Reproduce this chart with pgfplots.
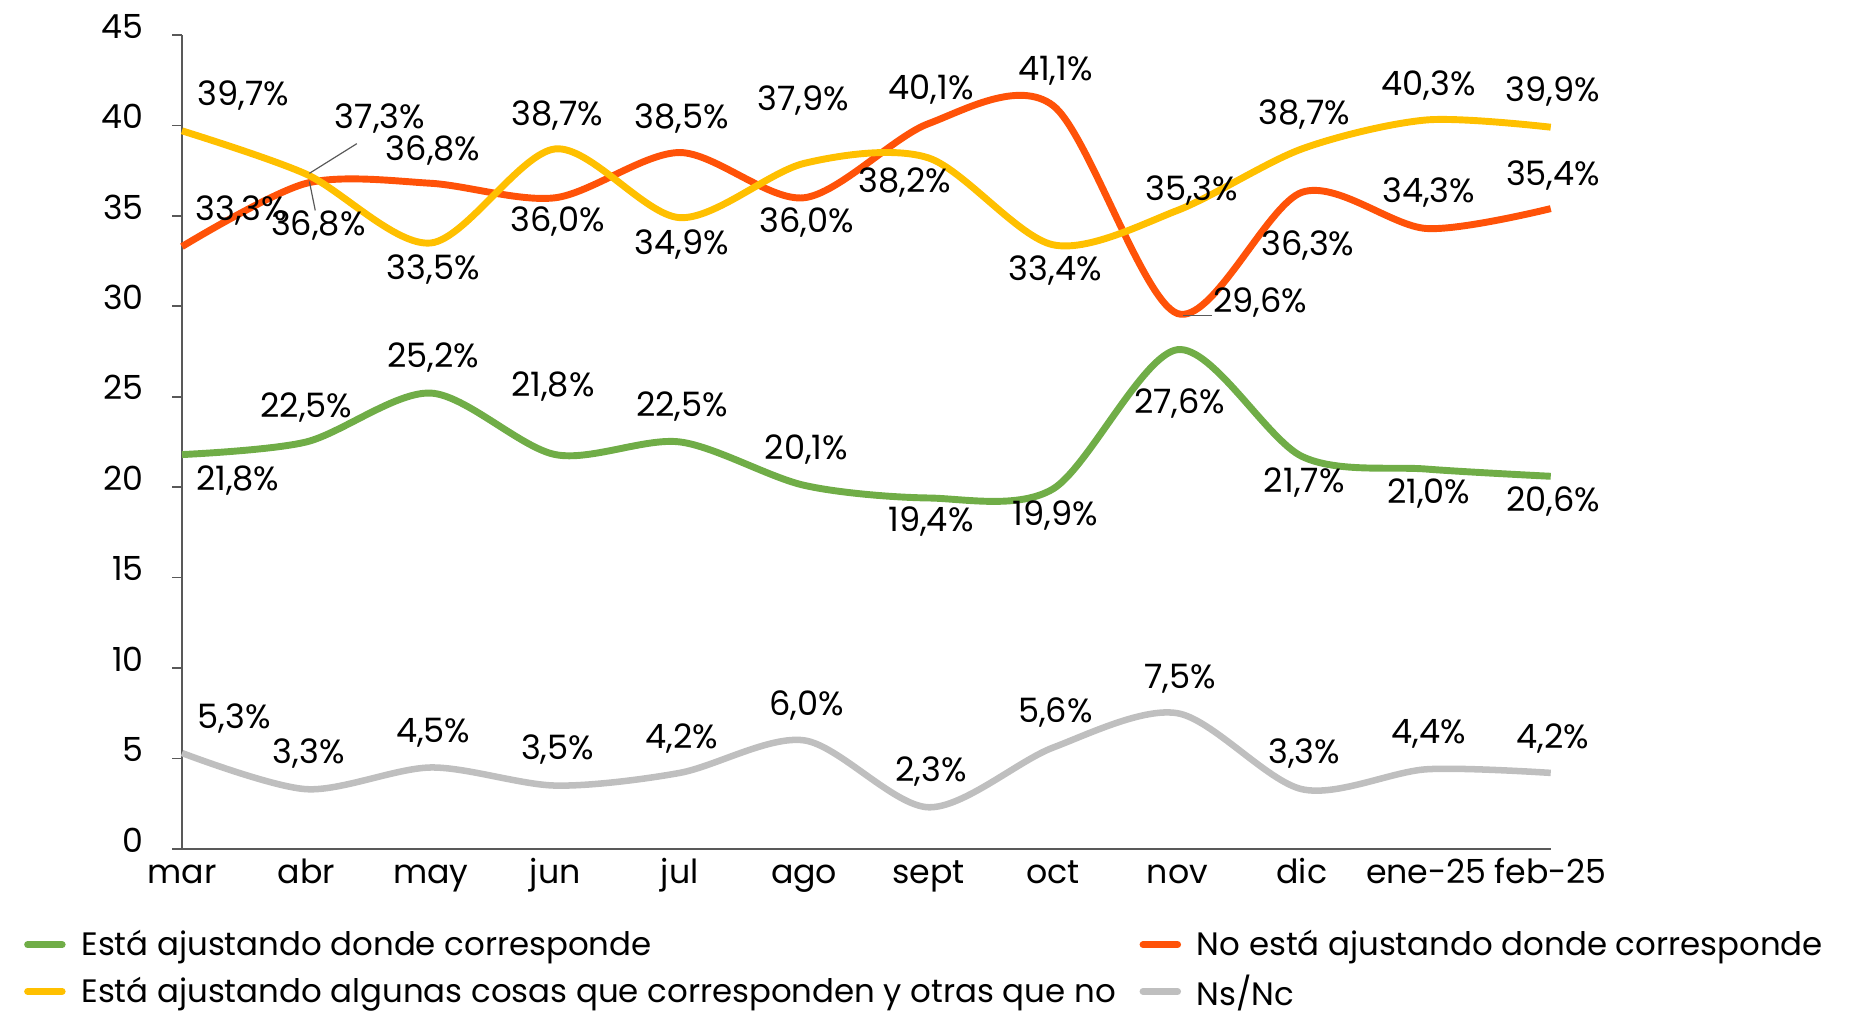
\documentclass[border=0pt]{standalone}
\usepackage{pgfplots}
\pgfplotsset{compat=1.18}
\usepackage{pgfplotstable}
\usepackage{fontspec}
\setmainfont{Poppins}
\definecolor{cgreen}{HTML}{70AD47}
\definecolor{corange}{HTML}{FF5208}
\definecolor{cyellow}{HTML}{FFC000}
\definecolor{cgrey}{HTML}{BFBFBF}
\definecolor{caxis}{HTML}{595959}

\pgfplotstableread{
x y dx dy
0 21.8 47 22
1 22.5 0 -29
2 25.2 2 -30
3 21.8 -2 -57
4 22.5 2 -30
5 20.1 2 -30
6 19.4 2 20
7 19.9 2 22
8 27.6 2 45
9 21.7 2 22
10 21.0 2 21
11 20.6 2 21
}\greentab

\pgfplotstableread{
x y dx dy
0 33.3 50 -30
1 36.8 10 36
2 36.8 2 -28
3 36.0 2 20
4 38.5 2 -29
5 36.0 2 21
6 40.1 2 -29
7 41.1 2 -29
8 29.6 70 -9
9 36.3 5 45
10 34.3 2 -30
11 35.4 2 -28
}\orangetab

\pgfplotstableread{
x y dx dy
0 39.7 52 -30
1 37.3 62 -47
2 33.5 2 22
3 38.7 2 -28
4 34.9 2 23
5 37.9 -1 -53
6 38.2 -20 21
7 33.4 2 22
8 35.3 12 -17
9 38.7 2 -29
10 40.3 2 -29
11 39.9 2 -30
}\yellowtab

\pgfplotstableread{
x y dx dy
0 5.3 44 -29
1 3.3 2 -30
2 4.5 2 -29
3 3.5 2 -30
4 4.2 2 -29
5 6.0 2 -29
6 2.3 2 -30
7 5.6 2 -30
8 7.5 2 -29
9 3.3 2 -30
10 4.4 2 -30
11 4.2 2 -29
}\greytab

\pgfplotsset{
  lbl/.style={
    point meta=explicit,
    visualization depends on={\thisrow{dx} \as \dx},
    visualization depends on={\thisrow{dy} \as \dy},
    nodes near coords={\pgfmathprintnumber[fixed,fixed zerofill,precision=1,use comma,assume math mode=true]{\pgfplotspointmeta}\%},
    every node near coord/.append style={anchor=center, inner sep=0pt, text=black,
      font=\fontsize{17}{20}\selectfont, xshift={0.6*\dx}, yshift={-0.6*(\dy)}},
  },
}

\begin{document}
\begin{tikzpicture}
\begin{axis}[
  at={(0,0)}, anchor=origin,
  scale only axis, width=692.7pt, height=411.9pt,
  xmin=0, xmax=11, ymin=0, ymax=45,
  axis x line=bottom, axis y line=left,
  axis line style={caxis, line width=0.9pt, -},
  xtick={0,...,11},
  xticklabels={mar,abr,may,jun,jul,ago,sept,oct,nov,dic,ene-25,feb-25},
  ytick={0,5,...,45},
  tick align=outside, major tick length=5pt,
  x tick style={draw=none},
  y tick style={caxis, line width=0.9pt},
  /pgf/number format/assume math mode=true,
  ticklabel style={font=\fontsize{16.8}{19}\selectfont, text=black},
  xticklabel style={anchor=base, inner sep=0pt, yshift=-12.5pt},
  yticklabel style={anchor=east, inner sep=0pt, xshift=-14.2pt, yshift=4.5pt},
  clip=false,
  legend columns=2,
  legend cell align=left,
  legend style={at={(-0.1156,-0.148)}, anchor=west, draw=none, fill=none,
    inner sep=0pt, row sep=8pt,
    font=\fontsize{16.4}{19}\selectfont,
    nodes={inner sep=0pt},
    /tikz/every odd column/.append style={column sep=8pt},
    /tikz/every even column/.append style={column sep=12pt}},
  legend image code/.code={\draw[#1, line cap=round] (1.75pt,0pt) -- (19.25pt,0pt);},
]
\addplot[cgreen, line width=3.5pt, smooth, forget plot, lbl] table[x=x, y=y, meta=y] {\greentab};
\addplot[corange, line width=3.5pt, smooth, forget plot, lbl] table[x=x, y=y, meta=y] {\orangetab};
\addplot[cyellow, line width=3.5pt, smooth, forget plot, lbl] table[x=x, y=y, meta=y] {\yellowtab};
\addplot[cgrey, line width=3.3pt, smooth, forget plot, lbl] table[x=x, y=y, meta=y] {\greytab};

\draw[caxis, line width=0.6pt] (axis cs:1.024,37.35) -- (axis cs:1.405,38.99);
\draw[caxis, line width=0.6pt] (axis cs:1.024,36.9) -- (axis cs:1.071,35.3);
\draw[caxis, line width=0.6pt] (axis cs:8.043,29.49) -- (axis cs:8.281,29.49);

\addlegendimage{cgreen, line width=3.5pt}
\addlegendentry{Está ajustando donde corresponde}
\addlegendimage{corange, line width=3.5pt}
\addlegendentry{No está ajustando donde corresponde}
\addlegendimage{cyellow, line width=3.5pt}
\addlegendentry{Está ajustando algunas cosas que corresponden y otras que no}
\addlegendimage{cgrey, line width=3.5pt}
\addlegendentry{Ns/Nc}
\end{axis}
\pgfresetboundingbox
\path (-92.1pt,-83.4pt) rectangle (848.7pt,429.6pt);
\end{tikzpicture}
\end{document}
